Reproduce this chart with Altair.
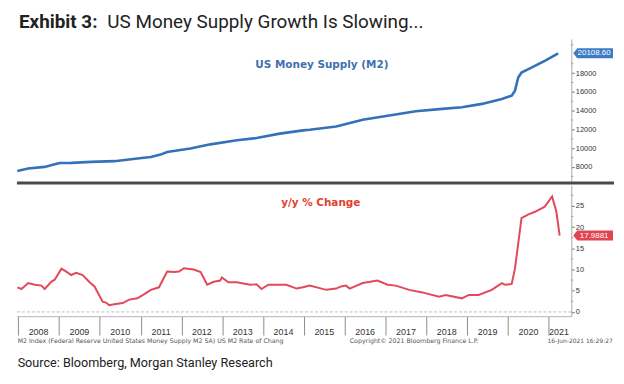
import altair as alt
import pandas as pd

# ---------------- data ----------------
M2_T = [2007.98, 2008.245, 2008.65, 2008.895, 2009.02, 2009.30, 2009.79, 2010.355,
        2010.92, 2011.25, 2011.49, 2011.65, 2012.22, 2012.71, 2013.36, 2013.84,
        2014.41, 2014.98, 2015.14, 2015.79, 2016.44, 2017.09, 2017.74, 2018.39,
        2018.87, 2019.36, 2019.85, 2020.09, 2020.17, 2020.25, 2020.33, 2020.50,
        2020.90, 2021.23]
M2_V = [7560, 7840, 8010, 8300, 8430, 8440, 8540, 8620,
        8900, 9070, 9320, 9600, 9960, 10410, 10840, 11080,
        11550, 11900, 11970, 12320, 13030, 13480, 13940, 14190,
        14360, 14720, 15250, 15600, 16130, 17530, 18060, 18420,
        19300, 20108.60]

YY_T = [2007.98, 2008.08, 2008.245, 2008.41, 2008.57, 2008.65, 2008.81, 2008.895,
        2009.06, 2009.18, 2009.30, 2009.42, 2009.58, 2009.75, 2009.87, 2010.07,
        2010.15, 2010.23, 2010.355, 2010.56, 2010.72, 2010.92, 2011.09, 2011.25,
        2011.45, 2011.65, 2011.82, 2011.94, 2012.06, 2012.30, 2012.47, 2012.63,
        2012.79, 2012.95, 2012.99, 2013.15, 2013.36, 2013.68, 2013.84, 2013.96,
        2014.13, 2014.33, 2014.57, 2014.82, 2014.98, 2015.14, 2015.55, 2015.79,
        2015.91, 2016.03, 2016.12, 2016.44, 2016.80, 2017.05, 2017.25, 2017.58,
        2017.90, 2018.31, 2018.47, 2018.87, 2019.04, 2019.28, 2019.60, 2019.85,
        2019.93, 2020.09, 2020.17, 2020.33, 2020.50, 2020.66, 2020.90, 2021.08,
        2021.185, 2021.265]
YY_V = [5.8, 5.4, 6.8, 6.4, 6.2, 5.4, 7.1, 7.6,
        10.2, 9.5, 8.7, 9.2, 8.7, 7.0, 6.0, 2.4,
        2.2, 1.6, 1.8, 2.1, 2.9, 3.2, 4.2, 5.2,
        5.8, 9.5, 9.4, 9.5, 10.3, 10.0, 9.4, 6.4,
        7.1, 7.4, 8.1, 7.0, 7.0, 6.4, 6.5, 5.4,
        6.4, 6.4, 6.4, 5.5, 5.8, 6.2, 5.2, 5.5,
        6.0, 6.2, 5.5, 6.8, 7.4, 6.4, 6.2, 5.2,
        4.6, 3.6, 4.0, 3.2, 4.0, 4.0, 5.2, 6.8,
        6.4, 6.6, 10.2, 22.1, 23.0, 23.6, 24.8, 27.2,
        23.6, 17.9881]

YEARS = list(range(2008, 2022))
M2_TICKS = [8000, 10000, 12000, 14000, 16000, 18000]
M2_MINOR = [7000, 9000, 11000, 13000, 15000, 17000, 19000, 21000]
YY_TICKS = [0, 5, 10, 15, 20, 25]
YY_MINOR = [2.5, 7.5, 12.5, 17.5, 22.5, 27.5]

TITLE_BOLD = "Exhibit 3:"
TITLE_TEXT = "US Money Supply Growth Is Slowing..."
PANEL1 = "US Money Supply (M2)"
PANEL2 = "y/y % Change"
FOOT_LEFT = "M2 Index (Federal Reserve United States Money Supply M2 SA) US M2 Rate of Chang"
FOOT_MID = "Copyright\u00a9 2021 Bloomberg Finance L.P."
FOOT_RIGHT = "16-Jun-2021 16:29:27"
SOURCE = "Source: Bloomberg, Morgan Stanley Research"

# ---------------- styling ----------------
W, H1, H2 = 558, 145, 132
XDOM = [2007.97, 2021.55]
BLUE = "#3571b8"
BLUE_T = "#3f70b0"
BLUE_BOX = "#3d7bc4"
RED = "#e24a5a"
RED_T = "#e2412e"
RED_BOX = "#e24452"
TAG = "M -1 0 L -0.8 -0.25 L 1 -0.25 L 1 0.25 L -0.8 0.25 Z"
LAB_FONT = "Liberation Sans"
FOOT_FONT = "DejaVu Sans"

m2 = pd.DataFrame({"t": M2_T, "v": M2_V})
yy = pd.DataFrame({"t": YY_T, "v": YY_V})
m2_last = m2.tail(1).copy()
m2_last["label"] = m2_last["v"].map(lambda v: f"{v:.2f}")
yy_last = yy.tail(1).copy()
yy_last["label"] = yy_last["v"].map(lambda v: f"{v:.4f}")
years = pd.DataFrame({"year": YEARS})
years["t"] = [y + 0.5 if y < 2021 else y + 0.25 for y in YEARS]
years["label"] = years["year"].astype(str)


def txt(s):
    return alt.Chart(pd.DataFrame({"s": [s]}))


xscale = alt.Scale(domain=XDOM, nice=False, zero=False)


def yaxis(vals):
    return alt.Axis(orient="right", values=vals, title=None, grid=False, format="d",
                    domainColor="#a8a8a8", tickColor="#777777", tickSize=3,
                    labelFontSize=7.5, labelFont=LAB_FONT, labelColor="#333333",
                    labelPadding=1)


# ---------------- top panel ----------------
y1 = alt.Y("v:Q", scale=alt.Scale(domain=[6290, 21630], nice=False, zero=False),
           axis=yaxis(M2_TICKS))
x1 = alt.X("t:Q", scale=xscale, axis=None)

line1 = alt.Chart(m2).mark_line(color=BLUE, strokeWidth=2.6).encode(x=x1, y=y1)
minor1 = alt.Chart(pd.DataFrame({"v": M2_MINOR})).mark_rule(color="#999999", strokeWidth=1).encode(
    x=alt.value(W), x2=alt.value(W + 2), y=y1)
box1 = alt.Chart(m2_last).mark_point(shape=TAG, size=1600, filled=True, color=BLUE_BOX,
                                     opacity=1, strokeWidth=0).encode(x=alt.value(W + 22), y=y1)
lab1 = alt.Chart(m2_last).mark_text(color="white", fontSize=8, font=LAB_FONT,
                                    align="center", baseline="middle", dx=1).encode(
    x=alt.value(W + 22), y=y1, text="label:N")
divider = txt("").mark_rule(color="#4a4a4a", strokeWidth=3).encode(
    x=alt.value(0), x2=alt.value(W + 43), y=alt.value(H1))
t_bold = txt(TITLE_BOLD).mark_text(font="Roboto", fontWeight="bold", fontSize=19,
                                   align="left", baseline="alphabetic", color="#222222").encode(
    x=alt.value(2), y=alt.value(-11), text="s:N")
t_reg = txt(TITLE_TEXT).mark_text(font="Roboto", fontSize=19, align="left",
                                  baseline="alphabetic", color="#222222").encode(
    x=alt.value(91), y=alt.value(-11), text="s:N")
p1 = txt(PANEL1).mark_text(font="DejaVu Sans", fontWeight="bold", fontSize=10.5,
                           align="left", baseline="middle", color=BLUE_T).encode(
    x=alt.value(240), y=alt.value(26), text="s:N")

top = alt.layer(divider, minor1, line1, box1, lab1, t_bold, t_reg, p1).properties(width=W, height=H1)

# ---------------- bottom panel ----------------
y2 = alt.Y("v:Q", scale=alt.Scale(domain=[-1.0, 29.9], nice=False, zero=False),
           axis=yaxis(YY_TICKS))
x2_axis = alt.Axis(values=YEARS, labels=False, tickSize=19, tickColor="#8c8c8c",
                   domainColor="#b4b4b4", title=None, grid=False)
x2 = alt.X("t:Q", scale=xscale, axis=x2_axis)

zero = alt.Chart(pd.DataFrame({"v": [0]})).mark_rule(
    color="#bdbdbd", strokeDash=[3, 2], strokeWidth=1).encode(y=y2)
minor2 = alt.Chart(pd.DataFrame({"v": YY_MINOR})).mark_rule(color="#999999", strokeWidth=1).encode(
    x=alt.value(W), x2=alt.value(W + 2), y=y2)
line2 = alt.Chart(yy).mark_line(color=RED, strokeWidth=2).encode(x=x2, y=y2)
box2 = alt.Chart(yy_last).mark_point(shape=TAG, size=1600, filled=True, color=RED_BOX,
                                     opacity=1, strokeWidth=0).encode(x=alt.value(W + 22), y=y2)
lab2 = alt.Chart(yy_last).mark_text(color="white", fontSize=8, font=LAB_FONT,
                                    align="center", baseline="middle", dx=1).encode(
    x=alt.value(W + 22), y=y2, text="label:N")
yrs = alt.Chart(years).mark_text(font=LAB_FONT, fontSize=9, color="#333333",
                                 align="center", baseline="alphabetic").encode(
    x=x2, y=alt.value(150.7), text="label:N")
p2 = txt(PANEL2).mark_text(font="DejaVu Sans", fontWeight="bold", fontSize=10.5,
                           align="left", baseline="middle", color=RED_T).encode(
    x=alt.value(266), y=alt.value(17.7), text="s:N")
f1 = txt(FOOT_LEFT).mark_text(font=FOOT_FONT, fontSize=6.3, color="#555555",
                              align="left", baseline="middle").encode(
    x=alt.value(0.7), y=alt.value(157.5), text="s:N")
f2 = txt(FOOT_MID).mark_text(font=FOOT_FONT, fontSize=6.3, color="#555555",
                             align="left", baseline="middle").encode(
    x=alt.value(335), y=alt.value(157.5), text="s:N")
f3 = txt(FOOT_RIGHT).mark_text(font=FOOT_FONT, fontSize=6, color="#555555",
                               align="right", baseline="middle").encode(
    x=alt.value(599.7), y=alt.value(157.5), text="s:N")
src = txt(SOURCE).mark_text(font="Roboto", fontSize=12.7, color="#222222",
                            align="left", baseline="alphabetic").encode(
    x=alt.value(0.7), y=alt.value(183.3), text="s:N")

bottom = alt.layer(zero, minor2, line2, box2, lab2, yrs, p2, f1, f2, f3, src).properties(width=W, height=H2)

chart = alt.vconcat(top, bottom, spacing=0).configure(
    padding={"left": 4, "top": 4, "right": 0, "bottom": 0},
    background="white",
).configure_view(stroke=None)

chart.save("out.html", embed_options={"renderer": "svg", "actions": False})
